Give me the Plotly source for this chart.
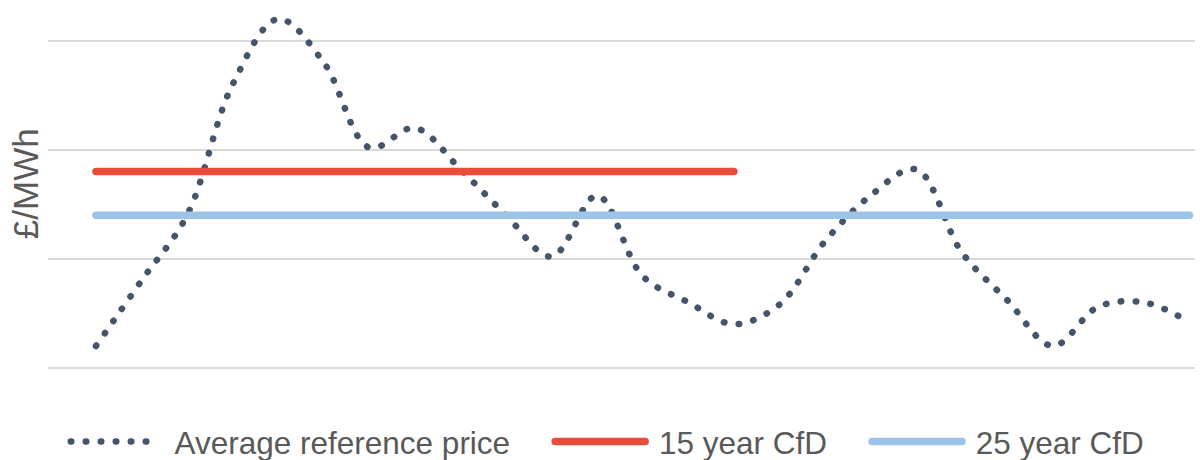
import plotly.graph_objects as go

# Contract years and price series (£/MWh)
years = list(range(1, 26))
avg_reference_price = [10, 40, 70, 130, 160, 140, 101, 110, 91, 70, 51, 79, 42, 30, 20,
                       29, 58, 79, 91, 53, 31, 10, 28, 30, 21]
cfd15_years = list(range(1, 16))
cfd15_price = [90] * len(cfd15_years)
cfd25_years = list(range(1, 26))
cfd25_price = [70] * len(cfd25_years)

TEXT = "#595959"
FONT = "Liberation Sans, Arial, sans-serif"
LEAD = "\u00a0"        # gap between legend symbol and label
PAD = "\u00a0" * 4     # spacing after each legend label

fig = go.Figure()
fig.add_trace(go.Scatter(
    x=years, y=avg_reference_price, mode="lines",
    name=LEAD + "Average reference price" + PAD,
    line=dict(color="#44546A", width=6.5, dash="0.5px,14.5px", shape="spline", smoothing=1.0),
))
fig.add_trace(go.Scatter(
    x=cfd15_years, y=cfd15_price, mode="lines", name=LEAD + "15 year CfD" + PAD,
    line=dict(color="#E84C3A", width=7.5),
))
fig.add_trace(go.Scatter(
    x=cfd25_years, y=cfd25_price, mode="lines", name=LEAD + "25 year CfD",
    line=dict(color="#9DC3E6", width=7.5),
))

fig.update_layout(
    width=1200, height=460,
    margin=dict(l=48, r=5, t=0, b=70, autoexpand=False),
    paper_bgcolor="white", plot_bgcolor="white",
    font=dict(family=FONT, color=TEXT),
    showlegend=True,
    legend=dict(
        orientation="h", x=0.0155, xanchor="left", y=-0.132, yanchor="middle",
        font=dict(size=31.5, color=TEXT, family=FONT),
        itemwidth=90, bgcolor="rgba(0,0,0,0)",
    ),
    xaxis=dict(range=[-0.053, 25.12], showgrid=False, zeroline=False,
               showticklabels=False, showline=False, ticks=""),
    yaxis=dict(range=[-10.2, 168.7], dtick=50, tick0=0, showgrid=True,
               gridcolor="#D9D9D9", gridwidth=2, zeroline=False,
               showticklabels=False, showline=False, ticks=""),
    annotations=[dict(
        text="£/MWh", xref="paper", yref="paper", x=-0.02, y=0.528,
        xanchor="center", yanchor="middle", textangle=-90, showarrow=False,
        font=dict(size=35, color=TEXT, family=FONT),
    )],
)

# Round line caps so the dotted series renders as round dots
post = """
var gd = document.getElementById('{plot_id}');
function roundCaps(){
  gd.querySelectorAll('.js-line').forEach(function(p){ p.style.strokeLinecap = 'round'; });
}
roundCaps();
gd.on('plotly_afterplot', roundCaps);
"""
fig.write_html("out.html", post_script=post)
